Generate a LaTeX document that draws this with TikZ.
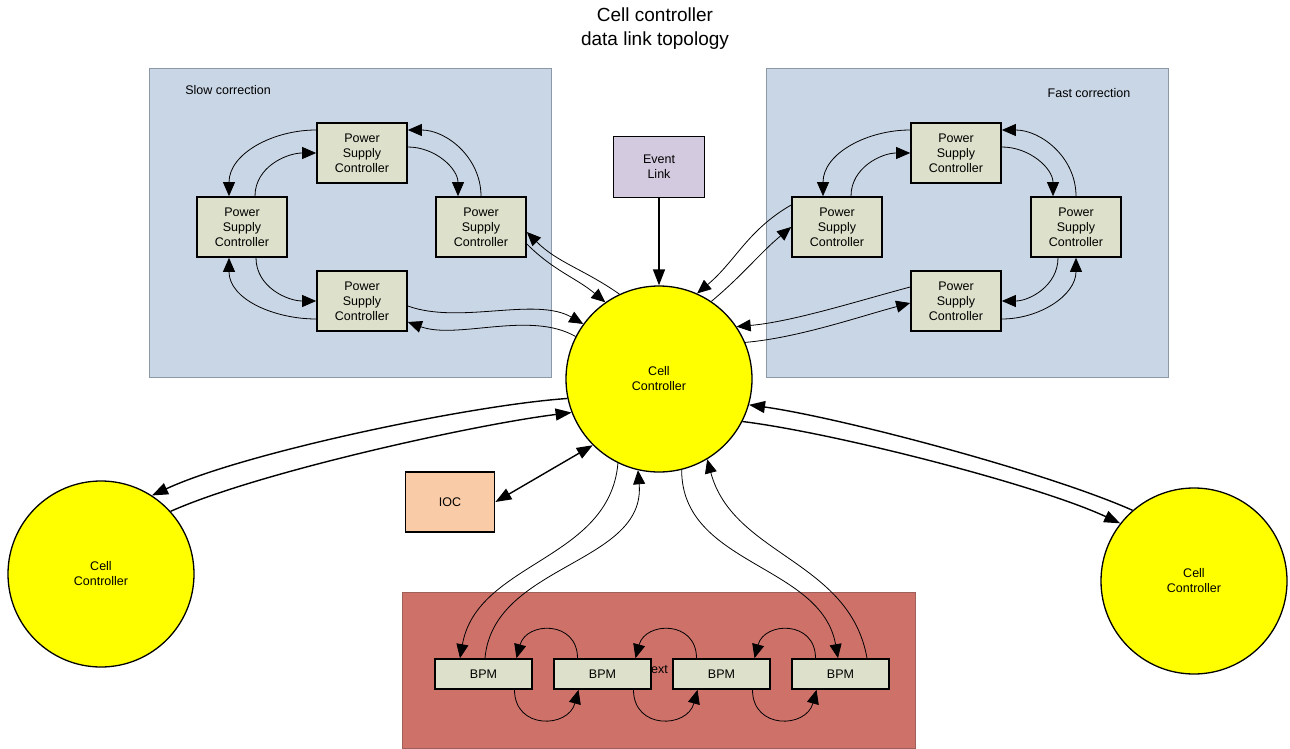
\documentclass[tikz,border=0pt]{standalone}
\usepackage{fontspec}
\setmainfont{Liberation Sans}
\usetikzlibrary{arrows.meta}
\definecolor{region}{HTML}{C9D6E6}
\definecolor{regionline}{HTML}{8C98A6}
\definecolor{psc}{HTML}{DDE0CA}
\definecolor{eventlink}{HTML}{D4CAE0}
\definecolor{ioc}{HTML}{F9CBA7}
\definecolor{bpmzone}{HTML}{CD7169}
\definecolor{bpmline}{HTML}{A0605A}
\definecolor{cellfill}{HTML}{FFFF00}

\begin{document}
\begin{tikzpicture}[
  x=1pt, y=-1pt,
  lbl/.style={font=\fontsize{12.5}{15}\selectfont, align=center},
  psu/.style={lbl, draw, line width=1.7pt, fill=psc, minimum width=90pt, minimum height=60pt, inner sep=0pt},
  bpm/.style={lbl, draw, line width=1.7pt, fill=psc, minimum width=97pt, minimum height=30pt, inner sep=0pt},
  cell/.style={lbl, circle, draw, line width=1.3pt, fill=cellfill, minimum size=186pt, inner sep=0pt},
  link/.style={-{Triangle[length=14pt,width=12pt]}, line width=0.8pt},
  trunk/.style={-{Triangle[length=16pt,width=12pt]}, line width=1.4pt},
]
  \useasboundingbox (0,0) rectangle (1290,749);
  \fill[white] (0,0) rectangle (1290,749);

  % Regions
  \draw[draw=regionline, line width=0.6pt, fill=region] (149,68) rectangle (551,377);
  \draw[draw=regionline, line width=0.6pt, fill=region] (766,68) rectangle (1168,377);
  \draw[draw=bpmline, line width=0.6pt, fill=bpmzone] (402,592) rectangle (915,748);

  \node[font=\fontsize{19}{24}\selectfont, align=center] (title) at (655,29) {Cell controller\\data link topology};
  \node[lbl] (slowlbl) at (228,90) {Slow correction};
  \node[lbl] (fastlbl) at (1089,93) {Fast correction};

  % Slow correction ring
  \node[psu] (sT) at (362,153) {Power\\Supply\\Controller};
  \node[psu] (sL) at (242,227) {Power\\Supply\\Controller};
  \node[psu] (sR) at (481,227) {Power\\Supply\\Controller};
  \node[psu] (sB) at (362,301) {Power\\Supply\\Controller};

  % Fast correction ring
  \node[psu] (fT) at (956,153) {Power\\Supply\\Controller};
  \node[psu] (fL) at (837,227) {Power\\Supply\\Controller};
  \node[psu] (fR) at (1076,227) {Power\\Supply\\Controller};
  \node[psu] (fB) at (956,301) {Power\\Supply\\Controller};

  % Controllers
  \node[lbl, draw, line width=1.7pt, fill=eventlink, minimum width=91pt, minimum height=61pt] (ev) at (659,167) {Event\\Link};
  \node[cell] (cc) at (659,379) {Cell\\Controller};
  \node[cell] (lc) at (101,574) {Cell\\Controller};
  \node[cell] (rc) at (1194,581) {Cell\\Controller};
  \node[lbl, draw, line width=1.7pt, fill=ioc, minimum width=89pt, minimum height=60pt] (ioc) at (450,502) {IOC};

  % BPM chain
  \node[lbl, anchor=west, inner sep=0pt] (extlbl) at (651,670) {ext};
  \node[bpm] (b1) at (483.5,674) {BPM};
  \node[bpm] (b2) at (602.5,674) {BPM};
  \node[bpm] (b3) at (721.5,674) {BPM};
  \node[bpm] (b4) at (840.5,674) {BPM};

  % Ring links
  \draw[link] ([yshift=23pt]sT.west) to[out=180,in=90] ([xshift=-13pt]sL.north);
  \draw[link] ([xshift=13pt]sL.north) to[out=90,in=180] (sT.west);
  \draw[link] ([yshift=6pt]sT.east) to[out=0,in=90] ([xshift=-23pt]sR.north);
  \draw[link] (sR.north) to[out=90,in=0] ([yshift=23pt]sT.east);
  \draw[link] ([xshift=14pt]sL.south) to[out=-90,in=180] (sB.west);
  \draw[link] ([yshift=-18pt]sB.west) to[out=180,in=-90] ([xshift=-13pt]sL.south);

  \draw[link] ([yshift=23pt]fT.west) to[out=180,in=90] ([xshift=-14pt]fL.north);
  \draw[link] ([xshift=14pt]fL.north) to[out=90,in=180] (fT.west);
  \draw[link] ([yshift=6pt]fT.east) to[out=0,in=90] ([xshift=-23pt]fR.north);
  \draw[link] (fR.north) to[out=90,in=0] ([yshift=23pt]fT.east);
  \draw[link] ([xshift=-18pt]fR.south) to[out=-90,in=0] (fB.east);
  \draw[link] ([yshift=-18pt]fB.east) to[out=0,in=-90] (fR.south);

  % Links to the cell controller
  \draw[link] (cc.115) to[out=145,in=-45] ([yshift=-5pt]sR.east);
  \draw[link] ([yshift=-17pt]sR.east) to[out=-45,in=140] (cc.125);
  \draw[link] ([yshift=-5pt]sB.east) to[out=-20,in=150,looseness=0.8] (cc.144);
  \draw[link] (cc.153) to[out=150,in=-20,looseness=0.8] ([yshift=-21pt]sB.east);
  \draw[link] ([yshift=22pt]fL.west) to[out=210,in=40] (cc.66);
  \draw[link] (cc.56) to[out=40,in=220] (fL.west);
  \draw[link] ([yshift=14pt]fB.west) to[out=195,in=5,looseness=0.8] (cc.34);
  \draw[link] (cc.23) to[out=5,in=195,looseness=0.8] ([yshift=-2pt]fB.west);

  \draw[trunk] (ev.south) -- (cc.north);
  \draw[trunk, {Triangle[length=16pt,width=12pt]}-{Triangle[length=16pt,width=12pt]}] (ioc.east) -- (cc.225);

  \draw[trunk] (cc.192) to[out=184,in=25,looseness=0.6] (lc.57);
  \draw[trunk] (lc.42) to[out=24,in=187,looseness=0.6] (cc.201);
  \draw[trunk] (rc.131) to[out=156,in=-8,looseness=0.6] (cc.-16);
  \draw[trunk] (cc.-27) to[out=-7,in=155,looseness=0.6] (rc.142);

  \draw[link] (cc.244) to[out=-95,in=80] ([xshift=-23.5pt]b1.north);
  \draw[link] ([xshift=1.5pt]b1.north) to[out=85,in=-85] (cc.257);
  \draw[link] (cc.284) to[out=-90,in=100] ([xshift=-2.5pt]b4.north);
  \draw[link] ([xshift=26.5pt]b4.north) to[out=100,in=-75] (cc.301);

  % BPM loops
  \foreach \a/\b in {b1/b2, b2/b3, b3/b4} {
    \draw[link] ([xshift=-25pt]\b.north) to[out=90,in=75,looseness=1.6] ([xshift=33pt]\a.north);
    \draw[link] ([xshift=31pt]\a.south) to[out=-90,in=-105,looseness=1.6] ([xshift=-24pt]\b.south);
  }
\end{tikzpicture}
\end{document}
